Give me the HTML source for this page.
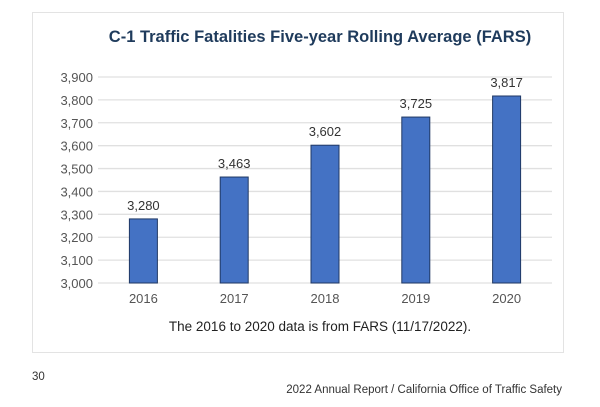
<!DOCTYPE html>
<html><head><meta charset="utf-8"><style>
body{margin:0;background:#fff;width:600px;height:407px;overflow:hidden;font-family:"Liberation Sans",sans-serif}
svg{display:block}
</style></head><body>
<svg width="600" height="407">
<rect x="32.5" y="12.5" width="531" height="340" fill="#fff" stroke="#e3e3e3"/>
<text x="320" y="42" text-anchor="middle" font-size="16.5" font-weight="bold" fill="#1f3b5c">C-1 Traffic Fatalities Five-year Rolling Average (FARS)</text>
<g id="grid"></g><g id="bars"></g>
<text x="320" y="331" text-anchor="middle" font-size="13.5" fill="#222">The 2016 to 2020 data is from FARS (11/17/2022).</text>
<text x="32" y="380" font-size="11.5" fill="#333">30</text>
<text x="562" y="393" text-anchor="end" font-size="11.5" fill="#333">2022 Annual Report / California Office of Traffic Safety</text>
</svg>
<script>
const categories=["2016","2017","2018","2019","2020"];
const values=[3280,3463,3602,3725,3817];
const valueLabels=["3,280","3,463","3,602","3,725","3,817"];
const ticks=[3000,3100,3200,3300,3400,3500,3600,3700,3800,3900];
const tickLabels=["3,000","3,100","3,200","3,300","3,400","3,500","3,600","3,700","3,800","3,900"];
const NS="http://www.w3.org/2000/svg";
const y0=283,y1=77,vmin=3000,vmax=3900;
function y(v){return y0-(v-vmin)/(vmax-vmin)*(y0-y1);}
const left=98,right=552,step=(right-left)/categories.length;
function xc(i){return left+step*(i+0.5);}
const g=document.getElementById('grid'),b=document.getElementById('bars');
function mk(tag,attrs,parent){const e=document.createElementNS(NS,tag);for(const k in attrs)e.setAttribute(k,attrs[k]);parent.appendChild(e);return e;}
ticks.forEach((t,i)=>{
  const l=mk('line',{x1:left,x2:right,y1:y(t),y2:y(t),stroke:'#e0e0e0','stroke-width':1.3},g);
  
  
  const tx=mk('text',{x:93,y:y(t)+5,'text-anchor':'end','font-size':13,fill:'#555'},g);
  tx.textContent=tickLabels[i];
  
  
});
const bw=28;
categories.forEach((c,i)=>{
  const r=mk('rect',{x:xc(i)-bw/2,y:y(values[i]),width:bw,height:y0-y(values[i]),fill:'#4472c4',stroke:'#203864','stroke-width':1},b);
  
  
  const vl=mk('text',{x:xc(i),y:y(values[i])-9,'text-anchor':'middle','font-size':13,fill:'#333'},b);
  vl.textContent=valueLabels[i];
  
  
  const xl=mk('text',{x:xc(i),y:303,'text-anchor':'middle','font-size':13,fill:'#555'},b);
  xl.textContent=c;
  
  
});
</script>
</body></html>
